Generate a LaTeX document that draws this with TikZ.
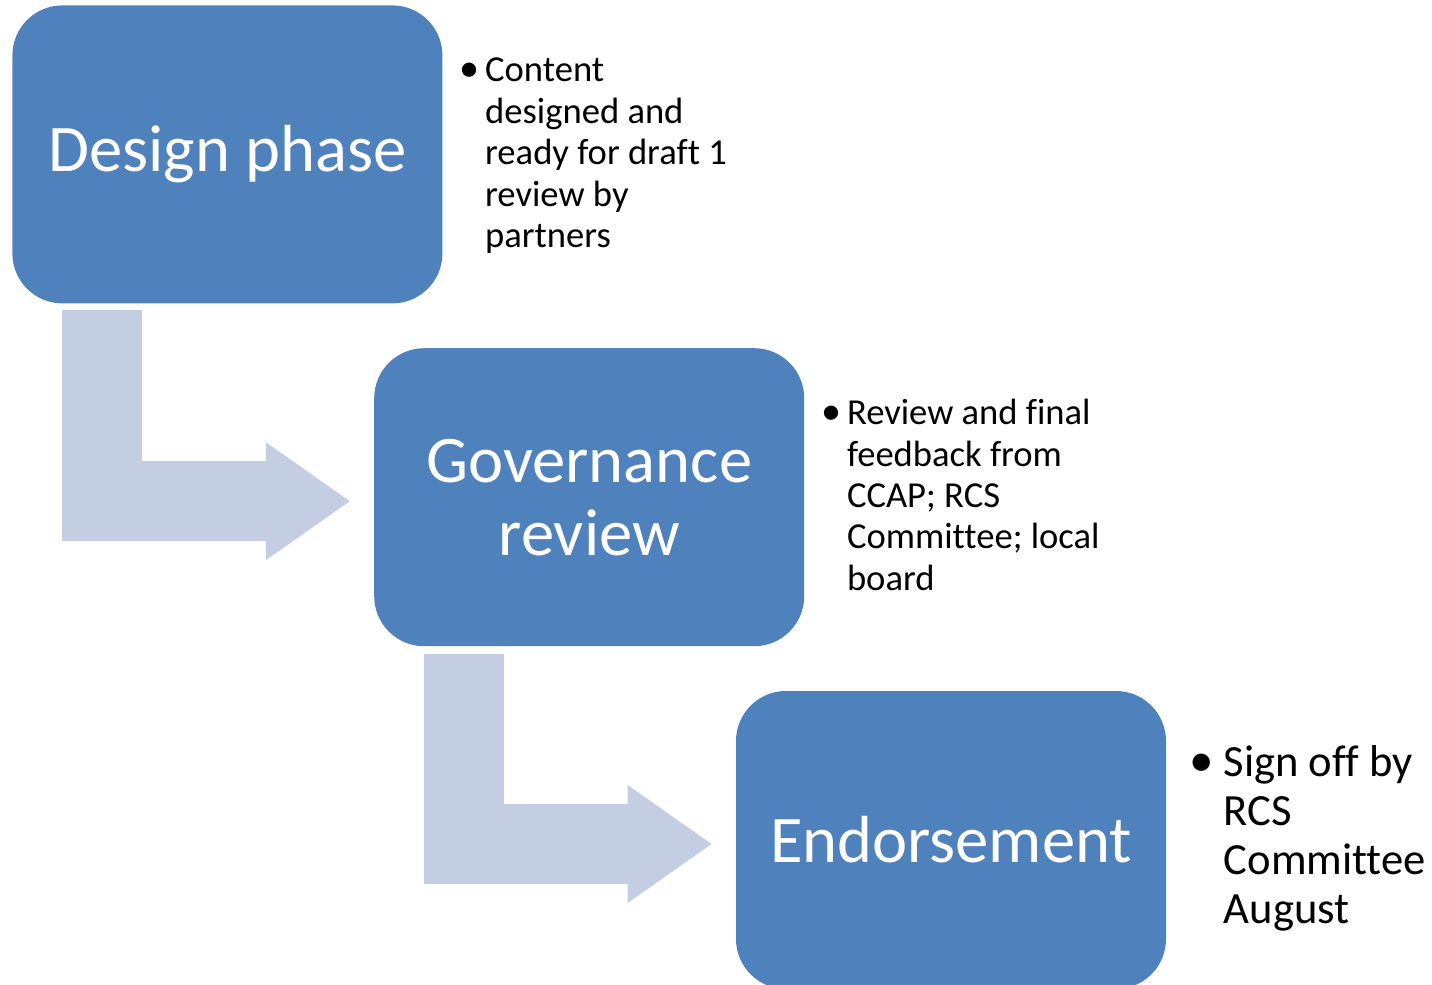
\documentclass[tikz,border=0pt]{standalone}
\usepackage{fontspec}
\setmainfont{Carlito}[Ligatures=NoCommon]
\usetikzlibrary{arrows.meta, positioning, calc}
\definecolor{blue1}{RGB}{79,129,189}
\definecolor{blue4}{RGB}{196,206,226}

\begin{document}
\begin{tikzpicture}[x=0.5pt, y=-0.5pt, node distance=10pt]

\tikzstyle{phase}		=[rectangle, rounded corners=25pt, fill=blue1, text=white, inner sep=0pt,
							minimum width=215pt, minimum height=149pt, align=center,
							font=\fontsize{33.3pt}{36.5pt}\selectfont]
\tikzstyle{note}		=[inner sep=0pt, align=left, font=\fontsize{18.3pt}{20.7pt}\selectfont]
\tikzstyle{bignote}	=[note, font=\fontsize{22.3pt}{24.6pt}\selectfont]
\tikzstyle{connection}	=[draw=blue4, line width=40pt, line join=miter,
							-{Triangle[length=42pt, width=59pt, line width=0pt]}]

\useasboundingbox (0,0) rectangle (1432,985);

\node[phase, anchor=north west]				(design) at (12,5)	{Design phase};
\node[phase, below right=22pt and -34.5pt of design]	(gov)				{Governance\\review};
\node[phase, below right=22pt and -34.5pt of gov]		(endo)			{Endorsement};

\node[note, right=8pt of design, yshift=-1pt]		(dnote)	{\begin{tabular}{@{}l@{}l@{}}
	\makebox[13pt][l]{\scalebox{1.1}{\textbullet}} & Content\\ & designed and\\ & ready for draft 1\\ & review by\\ & partners
	\end{tabular}};
\node[note, right=8pt of gov, yshift=-1pt]		(gnote)	{\begin{tabular}{@{}l@{}l@{}}
	\makebox[13pt][l]{\scalebox{1.1}{\textbullet}} & Review and final\\ & feedback from\\ & CCAP; RCS\\ & Committee; local\\ & board
	\end{tabular}};
\node[bignote, right=11.5pt of endo]	(enote)	{\begin{tabular}{@{}l@{}l@{}}
	\makebox[17pt][l]{\scalebox{1.1}{\textbullet}} & Sign off by\\ & RCS\\ & Committee\\ & August
	\end{tabular}};

\draw [connection]  ($(design.south west)+(90,6)$) |- ($(gov.west)+(-24,4)$);
\draw [connection]  ($(gov.south west)+(90,7)$)    |- ($(endo.west)+(-24,4)$);

\end{tikzpicture}
\end{document}
